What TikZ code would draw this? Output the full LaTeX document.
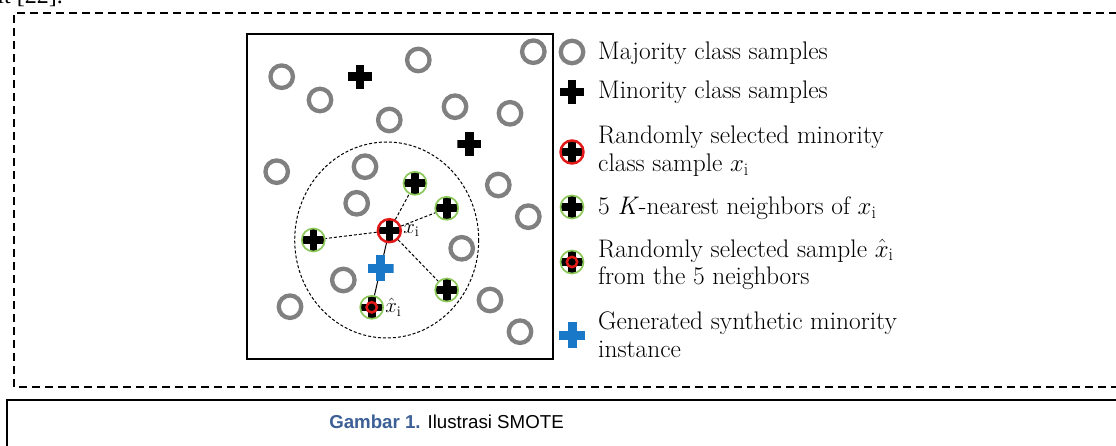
\documentclass[tikz,border=0pt]{standalone}
\usepackage{fontspec}
\newfontfamily\capfont{Liberation Sans}
\newfontfamily\pagefont{Liberation Serif}
\usetikzlibrary{calc}

\definecolor{ringgray}{RGB}{128,128,128}
\definecolor{nbgreen}{RGB}{140,200,90}
\definecolor{selred}{RGB}{225,25,25}
\definecolor{synblue}{RGB}{25,120,200}
\definecolor{capblue}{RGB}{60,95,150}

\tikzset{
  plusbars/.style 2 args={path picture={
    \fill[#1] ([yshift=-#2]path picture bounding box.west) rectangle ([yshift=#2]path picture bounding box.east);
    \fill[#1] ([xshift=-#2]path picture bounding box.south) rectangle ([xshift=#2]path picture bounding box.north);
  }},
}

\begin{document}
\begin{tikzpicture}[x=1pt, y=-1pt,
  majority/.style={circle, draw=ringgray, line width=4.3pt, minimum size=22.5pt, inner sep=0pt},
  minority/.style={rectangle, minimum size=24pt, inner sep=0pt, plusbars={black}{4.2pt}},
  synthetic/.style={rectangle, minimum size=26pt, inner sep=0pt, plusbars={synblue}{4.5pt}},
  neighbor/.style={circle, draw=nbgreen, line width=1.7pt, minimum size=23pt, inner sep=0pt, plusbars={black}{3.8pt}},
  selected/.style={neighbor, draw=selred, line width=2.5pt},
  chosen/.style={circle, draw=nbgreen, line width=1.7pt, minimum size=23pt, inner sep=0pt, path picture={
    \fill[black] ([yshift=-3.8pt]path picture bounding box.west) rectangle ([yshift=3.8pt]path picture bounding box.east);
    \fill[black] ([xshift=-3.8pt]path picture bounding box.south) rectangle ([xshift=3.8pt]path picture bounding box.north);
    \draw[selred, line width=2.5pt] (path picture bounding box.center) circle (5.2pt);
  }},
  link/.style={dash pattern=on 3pt off 2pt, line width=1pt},
  pageframe/.style={dash pattern=on 8pt off 5pt, line width=1.8pt},
  legendtext/.style={anchor=base west, align=left, inner sep=0pt, font=\fontsize{25.4}{28}\selectfont},
  mathlabel/.style={anchor=west, inner sep=1pt, font=\fontsize{21}{25}\selectfont}
]
\useasboundingbox (0,0) rectangle (1116,446);
\clip (0,0) rectangle (1116,446);

% page around the figure
\node[anchor=base east, inner sep=0pt, font=\pagefont\fontsize{24}{28}\selectfont] (cite) at (63,4) {it [22].};
\draw[pageframe] (1130,13) -- (14,13) -- (14,387) -- (1130,387);
\draw[line width=2pt] (1130,400) -- (7,400) -- (7,460);
\node[font=\capfont\fontsize{18.7}{22}\selectfont] (caption) at (446.5,422)
  {\textcolor{capblue}{\bfseries Gambar 1.} Ilustrasi SMOTE};

% sample space
\draw[line width=2.8pt] (247,34) rectangle (553,359);
\draw[link] (386.7,240) ellipse [x radius=92, y radius=98];

\foreach \px/\py [count=\k] in {281.7/76.7, 320/100, 418.3/60, 533.3/51.7, 389.3/120,
    455/106.7, 510/113.3, 276.7/171.7, 365/166.7, 498.3/185, 356.7/203.3, 528.3/216.7,
    461.7/248.3, 343.3/280, 290/306.7, 490/300, 520/331.7}
  \node[majority] (maj\k) at (\px,\py) {};

\node[minority] (min1) at (360,76.7) {};
\node[minority] (min2) at (469.3,144) {};

\node[selected] (xi) at (389.3,230.7) {};
\node[neighbor] (nb1) at (415,183.3) {};
\node[neighbor] (nb2) at (446.7,208.3) {};
\node[neighbor] (nb3) at (313.3,240) {};
\node[neighbor] (nb4) at (446.7,290) {};
\node[chosen] (xhat) at (371.7,307.3) {};

\foreach \n in {nb1,nb2,nb3,nb4}
  \draw[link] (xi) -- (\n);
\draw[line width=1pt] (xi) -- (xhat);
\node[synthetic] (syn) at ($(xi)!0.49!(xhat)$) {};

\node[mathlabel] (xilab) at (xi.east) {$x_{\mathrm{i}}$};
\node[mathlabel] (xhatlab) at (xhat.east) {$\hat{x}_{\mathrm{i}}$};

% legend
\node[majority] (lgmaj) at (572,52) {};
\node[minority] (lgmin) at (572,92) {};
\node[selected] (lgsel) at (572,152) {};
\node[neighbor] (lgnb) at (572,207) {};
\node[chosen] (lgchosen) at (572,262) {};
\node[synthetic] (lgsyn) at (572,335) {};

\node[legendtext] (txmaj) at (598,60) {Majority class samples};
\node[legendtext] (txmin) at (598,99) {Minority class samples};
\node[legendtext] (txsel) at (598,172) {Randomly selected minority\\class sample $x_{\mathrm{i}}$};
\node[legendtext] (txnb) at (598,215) {5 \textit{K}-nearest neighbors of $x_{\mathrm{i}}$};
\node[legendtext] (txchosen) at (598,285) {Randomly selected sample $\hat{x}_{\mathrm{i}}$\\from the 5 neighbors};
\node[legendtext] (txsyn) at (598,357) {Generated synthetic minority\\instance};
\end{tikzpicture}
\end{document}
